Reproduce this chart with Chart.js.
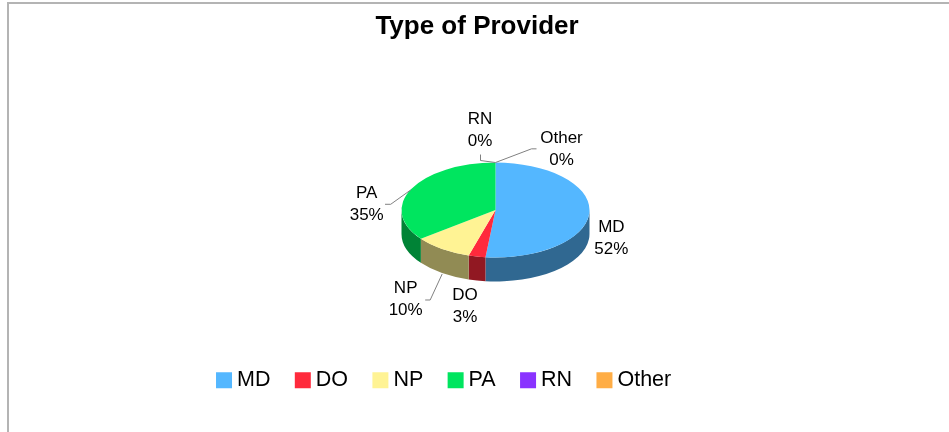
<!DOCTYPE html>
<html>
<head>
<meta charset="utf-8">
<style>
    html, body { margin: 0; padding: 0; background: #fff; overflow: hidden; }
    #frame { position: absolute; left: 7px; top: 2px; width: 980px; height: 460px; border: 2px solid #b4b4b4; }
    #wrap { position: absolute; left: 0; top: 0; width: 949px; height: 432px; }
</style>
</head>
<body>
<div id="frame"></div>
<div id="wrap"><canvas id="myChart" width="949" height="432"></canvas></div>

<script src="https://cdn.jsdelivr.net/npm/chart.js"></script>

<script>
    const categories = ['MD', 'DO', 'NP', 'PA', 'RN', 'Other'];
    const shares = [51.7, 2.9, 10, 35.4, 0, 0];
    const sliceColors = ['#54b7ff', '#ff2a3c', '#fff394', '#00e55f', '#8a33ff', '#ffad45'];

    // where the pie sits on the page, the tilt is faked by squashing it
    const pieX = 495.5;
    const pieY = 210;
    const pieRadius = 94;
    const squash = 0.505;
    const wallDepth = 24;
    const wallShade = 0.57;

    // label centres and leader lines, relative to the point on the rim of each slice
    const labelOffsets = [[22, 26], [-12, 50], [-36.5, 49.9], [-44.5, 15.8], [-15.5, -32.5], [66, -13.5]];
    const leaders = [
        null,
        null,
        [[0, 24.9], [-12, 50.9], [-17, 50.9]],
        [[-0.5, 1], [-20.5, 15.3], [-26.2, 15.3]],
        [[0, 0], [-15, -2], [-15, -8]],
        [[0, 0], [36, -13.7], [41, -13.7]]
    ];

    function shade(hex) {
        const r = parseInt(hex.slice(1, 3), 16) * wallShade;
        const g = parseInt(hex.slice(3, 5), 16) * wallShade;
        const b = parseInt(hex.slice(5, 7), 16) * wallShade;
        return `rgb(${r}, ${g}, ${b})`;
    }

    const tiltPlugin = {
        id: 'tilt',
        afterLayout(chart) {
            // legend is not centred in the original, move it left
            chart.legend.left -= 30.5;
            chart.legend.right -= 30.5;
        },
        beforeDatasetsDraw(chart) {
            const ctx = chart.ctx;
            const ry = pieRadius * squash;
            chart.getDatasetMeta(0).data.forEach((arc, i) => {
                const start = Math.max(arc.startAngle, 0);
                const end = Math.min(arc.endAngle, Math.PI);
                if (end <= start) return;
                ctx.beginPath();
                ctx.ellipse(pieX, pieY, pieRadius, ry, 0, start, end);
                ctx.ellipse(pieX, pieY + wallDepth, pieRadius, ry, 0, end, start, true);
                ctx.closePath();
                ctx.fillStyle = shade(sliceColors[i]);
                ctx.fill();
            });
        },
        beforeDatasetDraw(chart) {
            const arc = chart.getDatasetMeta(0).data[0];
            const ctx = chart.ctx;
            ctx.save();
            ctx.translate(pieX, pieY);
            ctx.scale(1, squash);
            ctx.translate(-arc.x, -arc.y);
        },
        afterDatasetDraw(chart) {
            chart.ctx.restore();
        },
        afterDatasetsDraw(chart) {
            const ctx = chart.ctx;
            const total = shares.reduce((a, b) => a + b, 0);
            ctx.save();
            chart.getDatasetMeta(0).data.forEach((arc, i) => {
                const mid = (arc.startAngle + arc.endAngle) / 2;
                const rimX = pieX + pieRadius * Math.cos(mid);
                const rimY = pieY + pieRadius * squash * Math.sin(mid);

                if (leaders[i]) {
                    ctx.beginPath();
                    leaders[i].forEach(([dx, dy]) => ctx.lineTo(rimX + dx, rimY + dy));
                    ctx.strokeStyle = '#808080';
                    ctx.lineWidth = 1;
                    ctx.stroke();
                }

                const percent = Math.round(shares[i] / total * 100) + '%';
                ctx.fillStyle = '#000';
                ctx.font = '17px "Liberation Sans"';
                ctx.textAlign = 'center';
                ctx.textBaseline = 'middle';
                ctx.fillText(categories[i], rimX + labelOffsets[i][0], rimY + labelOffsets[i][1] - 11);
                ctx.fillText(percent, rimX + labelOffsets[i][0], rimY + labelOffsets[i][1] + 11);
            });
            ctx.restore();
        }
    };

    new Chart(document.getElementById('myChart'), {
        type: 'pie',
        plugins: [tiltPlugin],
        data: {
            labels: categories,
            datasets: [{
                data: shares,
                backgroundColor: sliceColors,
                borderWidth: 0,
                radius: pieRadius
            }]
        },
        options: {
            responsive: false,
            animation: false,
            layout: { padding: { left: 8, right: 3, bottom: 31 } },
            plugins: {
                tooltip: { enabled: false },
                title: {
                    display: true,
                    text: 'Type of Provider',
                    color: '#000',
                    font: { family: '"Liberation Sans"', size: 26, weight: 'bold' },
                    padding: { top: 11, bottom: 10 }
                },
                legend: {
                    position: 'bottom',
                    labels: {
                        color: '#000',
                        font: { family: '"Liberation Sans"', size: 21.5 },
                        usePointStyle: true,
                        pointStyle: 'rect',
                        boxWidth: 4.5,
                        boxHeight: 16,
                        padding: 30.1
                    }
                }
            }
        }
    });
</script>
</body>
</html>
